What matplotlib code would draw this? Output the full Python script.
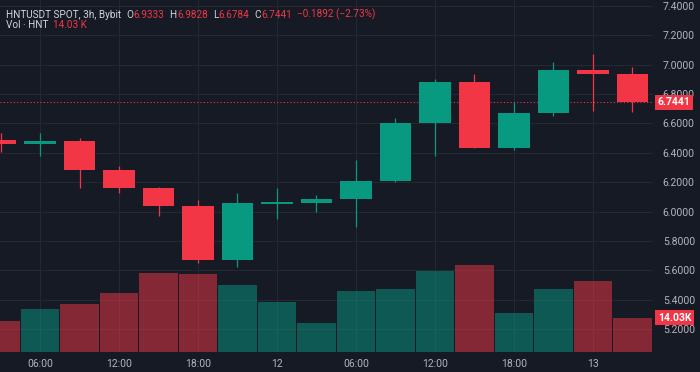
import matplotlib
matplotlib.use("Agg")
import matplotlib.pyplot as plt
import numpy as np
from matplotlib.transforms import blended_transform_factory

# ---- data ----
opens  = [6.49, 6.46, 6.48, 6.28, 6.16, 6.04, 5.67, 6.055, 6.062, 6.085, 6.21, 6.605, 6.88, 6.435, 6.668, 6.965, 6.9333]
highs  = [6.537, 6.533, 6.499, 6.31, 6.17, 6.079, 6.125, 6.159, 6.11, 6.351, 6.634, 6.90, 6.935, 6.747, 7.019, 7.072, 6.9828]
lows   = [6.407, 6.38, 6.163, 6.129, 5.972, 5.653, 5.627, 5.952, 6.0, 5.898, 6.20, 6.378, 6.43, 6.419, 6.65, 6.686, 6.6784]
closes = [6.46, 6.48, 6.28, 6.16, 6.04, 5.67, 6.057, 6.065, 6.085, 6.21, 6.605, 6.88, 6.435, 6.67, 6.965, 6.933, 6.7441]
volumes = [12.6, 17.5, 19.7, 24.2, 32.2, 32.0, 27.2, 20.4, 11.8, 24.8, 25.5, 33.2, 35.4, 15.9, 25.6, 29.1, 14.03]  # thousands
time_tick_idx = [1, 3, 5, 7, 9, 11, 13, 15]
time_tick_labels = ["06:00", "12:00", "18:00", "12", "06:00", "12:00", "18:00", "13"]
price_ticks = [5.2, 5.4, 5.6, 5.8, 6.0, 6.2, 6.4, 6.6, 6.8, 7.0, 7.2, 7.4]
last_price = 6.7441
last_volume = 14.03

# ---- style ----
BG = "#161a25"
GRID = "#242833"
TXT = "#b2b5be"
HDR = "#d1d4dc"
UP = "#089981"
DOWN = "#f23645"
plt.rcParams['font.family'] = ['Roboto', 'DejaVu Sans']

W, H = 700, 372
fig = plt.figure(figsize=(W / 100, H / 100), dpi=100, facecolor=BG)
rect = [0, (H - 352) / H, 653 / W, 352 / H]
ax = fig.add_axes(rect, facecolor=BG)
axv = fig.add_axes(rect, facecolor="none", sharex=ax)

x = np.arange(len(opens))
colors = [UP if c >= o else DOWN for o, c in zip(opens, closes)]

# volume
axv.bar(x, volumes, width=0.97, color=colors, alpha=0.5, linewidth=0)
axv.set_ylim(0, 143.6)
axv.axis("off")

# candles
ax.vlines(x, lows, highs, colors=colors, linewidth=0.9, zorder=3)
bottoms = [min(o, c) for o, c in zip(opens, closes)]
heights = [max(abs(c - o), 0.012) for o, c in zip(opens, closes)]
ax.bar(x, heights, bottom=bottoms, width=0.80, color=colors, linewidth=0, zorder=4)

ax.set_xlim(-0.013, 16.52)
ax.set_ylim(5.0458, 7.4387)

# last price line
ax.axhline(last_price, color=DOWN, linestyle=(0, (1, 2)), linewidth=0.8, zorder=2)

# grid & ticks
ax.set_yticks(price_ticks)
ax.set_yticklabels([f"{p:.4f}" for p in price_ticks])
ax.yaxis.tick_right()
ax.set_xticks(time_tick_idx)
ax.set_xticklabels(time_tick_labels)
ax.tick_params(axis="y", length=0, pad=7, labelsize=7.5, labelcolor=TXT)
ax.tick_params(axis="x", length=0, pad=5, labelsize=7.5, labelcolor=TXT)
ax.grid(True, color=GRID, linewidth=0.8)
ax.set_axisbelow(True)
for s in ax.spines.values():
    s.set_visible(False)

# right-side value labels
tr_p = blended_transform_factory(ax.transAxes, ax.transData)
ax.text(1 + 5 / 653, last_price, f"{last_price:.4f}", transform=tr_p, ha="left", va="center",
        color="white", fontsize=7.5, fontweight="bold", clip_on=False, zorder=10,
        bbox=dict(boxstyle="square,pad=0.25", facecolor=DOWN, edgecolor="none"))
tr_v = blended_transform_factory(axv.transAxes, axv.transData)
axv.text(1 + 5 / 653, last_volume, f"{last_volume:.2f}K", transform=tr_v, ha="left", va="center",
         color="white", fontsize=7.5, fontweight="bold", clip_on=False, zorder=10,
         bbox=dict(boxstyle="square,pad=0.25", facecolor=DOWN, edgecolor="none"))

# legend header, laid out left to right without overlaps
renderer = fig.canvas.get_renderer()

def header_line(py, pieces, size=7.2):
    cur = 0.0
    for px, s, color, gap in pieces:
        start = max(px, cur + gap)
        t = fig.text(start / W, 1 - py / H, s, color=color, fontsize=size, ha="left", va="center")
        bb = t.get_window_extent(renderer=renderer)
        cur = bb.x1

chg = closes[-1] - opens[-1]
header_line(14.5, [
    (6, "HNTUSDT SPOT, 3h, Bybit", HDR, 0),
    (116.7, "O", HDR, 5),
    (122.7, f"{opens[-1]:.4f}", DOWN, 0.5),
    (156.3, "H", HDR, 5),
    (162.3, f"{highs[-1]:.4f}", DOWN, 0.5),
    (197, "L", HDR, 5),
    (201.5, f"{lows[-1]:.4f}", DOWN, 0.5),
    (234, "C", HDR, 5),
    (239.3, f"{closes[-1]:.4f}", DOWN, 0.5),
    (272.7, f"\u2212{abs(chg):.4f} (\u2212{abs(chg) / opens[-1] * 100:.2f}%)", DOWN, 5),
])
header_line(24.5, [
    (6, "Vol \u00b7 HNT", HDR, 0),
    (51, f"{last_volume:.2f} K", DOWN, 5),
])

fig.savefig("out.png", dpi=100, facecolor=BG)
